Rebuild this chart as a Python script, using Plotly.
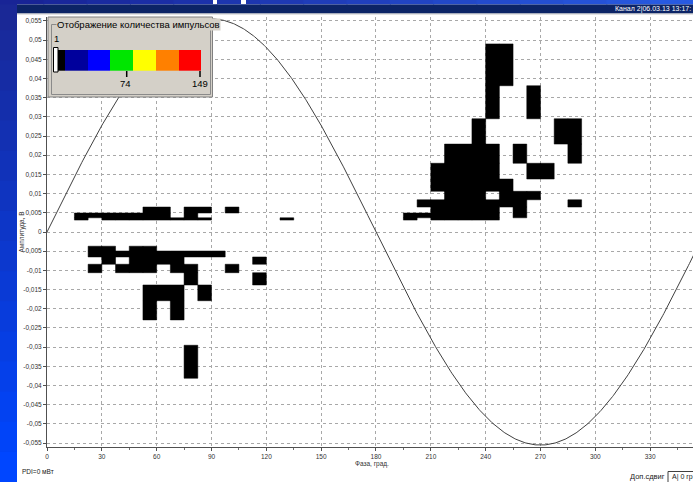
import plotly.graph_objects as go
import numpy as np

# ---------------- data ----------------
phase_ticks = [0, 30, 60, 90, 120, 150, 180, 210, 240, 270, 300, 330]
amp_ticks = [-0.055, -0.05, -0.045, -0.04, -0.035, -0.03, -0.025, -0.02, -0.015, -0.01, -0.005,
             0, 0.005, 0.01, 0.015, 0.02, 0.025, 0.03, 0.035, 0.04, 0.045, 0.05, 0.055]
amp_tick_labels = ["-0,055", "-0,05", "-0,045", "-0,04", "-0,035", "-0,03", "-0,025", "-0,02", "-0,015",
                   "-0,01", "-0,005", "0", "0,005", "0,01", "0,015", "0,02", "0,025", "0,03", "0,035",
                   "0,04", "0,045", "0,05", "0,055"]

phase_bin_width = 7.5  # degrees per phase bin
# amplitude bin edges (magnitude, V) - log-spaced bins of the PD analyser
amp_edges = [0.0031, 0.0037, 0.00495, 0.0065, 0.0084, 0.0106, 0.0138, 0.0179, 0.0229, 0.0295, 0.0381, 0.049]

# occupied cells: phase bin index -> amplitude bin indices (positive half)
pos_cells = {2: [0, 1], 3: [1], 4: [0, 1], 5: [0, 1], 6: [0, 1], 7: [0, 1, 2], 8: [0, 1, 2],
             9: [0], 10: [0, 1, 2], 11: [0, 2], 13: [2], 17: [0],
             26: [0, 1], 27: [1, 3], 28: [0, 1, 2, 3, 5, 6], 29: [0, 1, 2, 3, 4, 5, 6, 7],
             30: [0, 1, 2, 3, 4, 5, 6, 7], 31: [0, 1, 2, 3, 4, 5, 6, 7, 8],
             32: [0, 1, 2, 3, 5, 6, 7, 9, 10], 33: [3, 4, 5, 10], 34: [1, 2, 3, 4, 7],
             35: [4, 6, 9], 36: [6], 37: [8], 38: [3, 7, 8]}
# occupied cells (negative half)
neg_cells = {3: [1, 2, 4], 4: [1, 2, 3], 5: [2, 4], 6: [1, 2, 3, 4], 7: [1, 2, 3, 4, 6, 7],
             8: [2, 3, 6], 9: [2, 3, 4, 6, 7], 10: [2, 4, 5, 9], 11: [2, 6], 12: [2], 13: [4],
             15: [3, 5]}

reference_sine_amplitude = 0.0555

legend_colors = ["#000000", "#00009C", "#0000FF", "#00E600", "#FFFF00", "#FF8000", "#FF0000"]
legend_ticks = ["1", "74", "149"]

# ---------------- figure ----------------
W, H = 693, 482
L, T, PW, PH = 47, 17, 646, 430


def PX(x):
    return (x - L) / PW


def PY(y):
    return (T + PH - y) / PH


cx, cy = [], []
for sign, cells in ((1, pos_cells), (-1, neg_cells)):
    for j, rows in cells.items():
        x0 = j * phase_bin_width
        x1 = x0 + phase_bin_width
        for r in rows:
            y0 = sign * amp_edges[r]
            y1 = sign * amp_edges[r + 1]
            cx += [x0, x1, x1, x0, x0, None]
            cy += [y0, y0, y1, y1, y0, None]

fig = go.Figure()
fig.add_trace(go.Scatter(x=cx, y=cy, mode="lines", fill="toself", fillcolor="#000000",
                         line=dict(color="#000000", width=0.5), hoverinfo="skip", showlegend=False))

phase = np.linspace(0, 360, 721)
fig.add_trace(go.Scatter(x=phase, y=reference_sine_amplitude * np.sin(np.radians(phase)),
                         mode="lines", line=dict(color="#404040", width=1), showlegend=False))

shapes = []
ann = []

# left blue strip (vertical gradient)
n = 16
for i in range(n):
    t = i / (n - 1)
    c = "rgb(%d,%d,%d)" % (int(26 * (1 - t) + 0 * t), int(40 * (1 - t) + 70 * t), int(150 * (1 - t) + 255 * t))
    shapes.append(dict(type="rect", xref="paper", yref="paper", x0=PX(0), x1=PX(17),
                       y0=PY(H * (i + 1) / n + 1), y1=PY(H * i / n), fillcolor=c, line=dict(width=0),
                       layer="above"))
# top strip (horizontal gradient)
for i in range(n):
    t = i / (n - 1)
    c = "rgb(%d,%d,%d)" % (int(24 * (1 - t) + 40 * t), int(36 * (1 - t) + 90 * t), int(150 * (1 - t) + 225 * t))
    shapes.append(dict(type="rect", xref="paper", yref="paper", x0=PX(W * i / n), x1=PX(W * (i + 1) / n + 1),
                       y0=PY(4.5), y1=PY(0), fillcolor=c, line=dict(width=0), layer="above"))
# fragments of the big slide title
for a, b in ((213, 217), (241, 246)):
    shapes.append(dict(type="rect", xref="paper", yref="paper", x0=PX(a), x1=PX(b), y0=PY(4), y1=PY(0),
                       fillcolor="white", line=dict(width=0), layer="above"))
# navy title bar
shapes.append(dict(type="rect", xref="paper", yref="paper", x0=PX(17), x1=PX(W), y0=PY(13.5), y1=PY(4.5),
                   fillcolor="#0C2466", line=dict(width=0), layer="above"))
shapes.append(dict(type="line", xref="paper", yref="paper", x0=PX(17), x1=PX(W), y0=PY(14), y1=PY(14),
                   line=dict(color="#C8C8C8", width=1), layer="above"))

# legend group box
shapes.append(dict(type="rect", xref="paper", yref="paper", x0=PX(48), x1=PX(212.5), y0=PY(97), y1=PY(17),
                   fillcolor="#D4D0C8", line=dict(color="#808080", width=1), layer="above"))
shapes.append(dict(type="rect", xref="paper", yref="paper", x0=PX(51.5), x1=PX(210.5), y0=PY(94.5), y1=PY(24.5),
                   fillcolor="rgba(0,0,0,0)", line=dict(color="#8A8A8A", width=1), layer="above"))
seg_x = [55, 65, 88, 110, 133, 156, 179, 201]
for i, col in enumerate(legend_colors):
    shapes.append(dict(type="rect", xref="paper", yref="paper", x0=PX(seg_x[i]), x1=PX(seg_x[i + 1]),
                       y0=PY(70.7), y1=PY(50), fillcolor=col, line=dict(width=0), layer="above"))
shapes.append(dict(type="rect", xref="paper", yref="paper", x0=PX(53.5), x1=PX(58), y0=PY(72), y1=PY(47.5),
                   fillcolor="white", line=dict(color="black", width=1), layer="above"))
for tx in (126.7, 200):
    shapes.append(dict(type="line", xref="paper", yref="paper", x0=PX(tx), x1=PX(tx), y0=PY(77), y1=PY(71),
                       line=dict(color="black", width=1.5), layer="above"))

ann.append(dict(text="Отображение количества импульсов", xref="paper", yref="paper", x=PX(55.5), y=PY(24.5),
                xanchor="left", yanchor="middle", showarrow=False, bgcolor="#D4D0C8", borderpad=0,
                font=dict(family="Liberation Sans", size=9.5, color="#000000")))
ann.append(dict(text=legend_ticks[0], xref="paper", yref="paper", x=PX(56.5), y=PY(38), xanchor="center",
                yanchor="middle", showarrow=False, font=dict(family="Liberation Sans", size=9.5, color="#000")))
ann.append(dict(text=legend_ticks[1], xref="paper", yref="paper", x=PX(125), y=PY(83.5), xanchor="center",
                yanchor="middle", showarrow=False, font=dict(family="Liberation Sans", size=9.5, color="#000")))
ann.append(dict(text=legend_ticks[2], xref="paper", yref="paper", x=PX(199.5), y=PY(83.5), xanchor="center",
                yanchor="middle", showarrow=False, font=dict(family="Liberation Sans", size=9.5, color="#000")))

# title bar text
ann.append(dict(text="Канал 2|06.03.13 13:17:", xref="paper", yref="paper", x=PX(693), y=PY(9),
                xanchor="right", yanchor="middle", showarrow=False,
                font=dict(family="Liberation Sans", size=7, color="#FFFFFF")))
# axis titles
ann.append(dict(text="Амплитуда, В", xref="paper", yref="paper", x=PX(21.5), y=PY(232), textangle=-90,
                xanchor="center", yanchor="middle", showarrow=False,
                font=dict(family="Liberation Sans", size=6.5, color="#333333")))
ann.append(dict(text="Фаза, град.", xref="paper", yref="paper", x=PX(372), y=PY(463.5), xanchor="center",
                yanchor="middle", showarrow=False, font=dict(family="Liberation Sans", size=6.5, color="#333333")))
ann.append(dict(text="PDI=0 мВт", xref="paper", yref="paper", x=PX(20), y=PY(471), xanchor="left",
                yanchor="middle", showarrow=False, font=dict(family="Liberation Sans", size=6.5, color="#222222")))
ann.append(dict(text="Доп.сдвиг", xref="paper", yref="paper", x=PX(667), y=PY(477), xanchor="right",
                yanchor="middle", showarrow=False, font=dict(family="Liberation Sans", size=7.5, color="#222222")))
shapes.append(dict(type="rect", xref="paper", yref="paper", x0=PX(668), x1=PX(694), y0=PY(483), y1=PY(471.5),
                   fillcolor="white", line=dict(color="#404040", width=1), layer="above"))
ann.append(dict(text="A| 0 гр", xref="paper", yref="paper", x=PX(669.5), y=PY(477), xanchor="left",
                yanchor="middle", showarrow=False, font=dict(family="Liberation Sans", size=7, color="#222222")))

axis_font = dict(family="Liberation Sans", size=6.5, color="#333333")
fig.update_layout(
    width=W, height=H,
    margin=dict(l=L, r=W - L - PW, t=T, b=H - T - PH, autoexpand=False),
    paper_bgcolor="white", plot_bgcolor="white",
    shapes=shapes, annotations=ann, showlegend=False,
    xaxis=dict(range=[0, PW / 1.8277], tickvals=phase_ticks, ticktext=[str(v) for v in phase_ticks],
               showgrid=True, gridcolor="#A8A8A8", griddash="dot", gridwidth=1, zeroline=False,
               showline=True, linecolor="#505050", linewidth=1, ticks="outside", ticklen=3,
               tickcolor="#505050", tickfont=axis_font,
               minor=dict(dtick=15, ticks="outside", ticklen=2, tickcolor="#707070", showgrid=False)),
    yaxis=dict(range=[-0.056, 0.056], tickvals=amp_ticks, ticktext=amp_tick_labels,
               showgrid=True, gridcolor="#A8A8A8", griddash="dot", gridwidth=1, zeroline=False,
               showline=True, linecolor="#505050", linewidth=1, ticks="outside", ticklen=3,
               tickcolor="#505050", tickfont=axis_font),
)

fig.write_html("out.html", config={"displayModeBar": False},
               post_script="document.body.style.margin='0';document.body.style.padding='0';"
                           "document.documentElement.style.overflow='hidden';")
